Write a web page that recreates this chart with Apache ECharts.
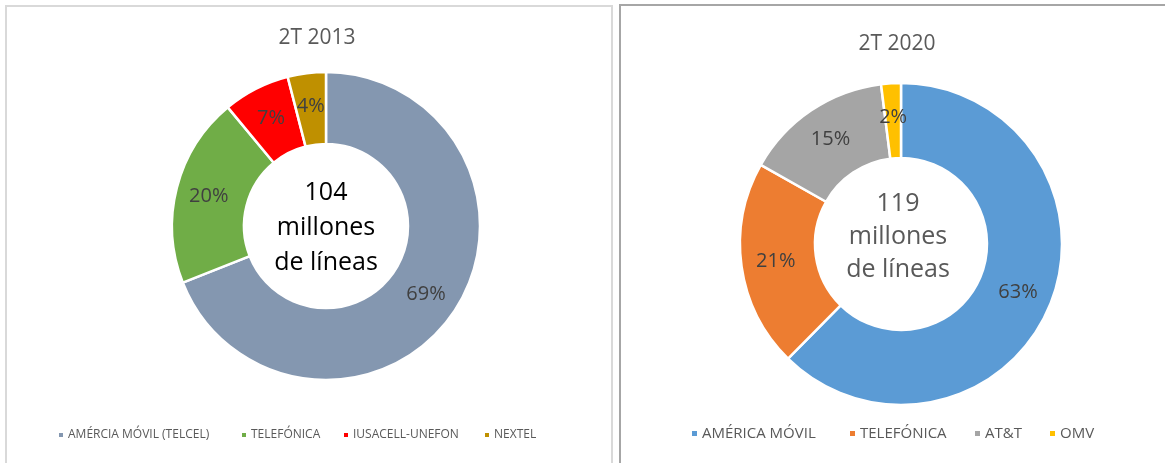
<!DOCTYPE html>
<html>
<head>
<meta charset="utf-8">
<script src="https://cdn.jsdelivr.net/npm/echarts@6/dist/echarts.min.js"></script>
<style>
html,body{margin:0;padding:0;background:#fff;}
#c{width:1165px;height:463px;}
</style>
</head>
<body>
<div id="c"></div>
<script>
// Data
const titleLeft = '2T 2013';
const categoriesLeft = ['AMÉRCIA MÓVIL (TELCEL)', 'TELEFÓNICA', 'IUSACELL-UNEFON', 'NEXTEL'];
const valuesLeft = [69, 20, 7, 4];
const centerLeft = ['104', 'millones', 'de líneas'];

const titleRight = '2T 2020';
const categoriesRight = ['AMÉRICA MÓVIL', 'TELEFÓNICA', 'AT&T', 'OMV'];
const valuesRight = [63, 21, 15, 2];
const centerRight = ['119', 'millones', 'de líneas'];

const colorsLeft = ['#8497B0', '#70AD47', '#FF0000', '#BF9000'];
const colorsRight = ['#5B9BD5', '#ED7D31', '#A5A5A5', '#FFC000'];

const FONT = 'Open Sans';
const chart = echarts.init(document.getElementById('c'), null, {renderer: 'canvas'});

function pie(cats, vals, colors, center, radius) {
  return {
    type: 'pie',
    center: center,
    radius: radius,
    startAngle: 90,
    clockwise: true,
    avoidLabelOverlap: false,
    silent: true,
    itemStyle: {borderColor: '#fff', borderWidth: 2.5},
    label: {
      show: true, position: 'inside', formatter: '{c}%',
      color: '#404040', fontSize: 20, fontFamily: FONT
    },
    labelLine: {show: false},
    data: cats.map((n, i) => ({name: n, value: vals[i], itemStyle: {color: colors[i]}}))
  };
}

// one legend component per entry, placed at the reference x position
const legendXLeft = [57, 240, 342, 483];
const legendXRight = [690, 848, 973, 1048];
function legends(cats, colors, xs, top, size, fs) {
  return cats.map((n, i) => ({
    data: [{name: n, itemStyle: {color: colors[i]}}],
    left: xs[i], top: top, padding: 0, itemWidth: size, itemHeight: size, itemGap: 0,
    icon: 'rect', selectedMode: false,
    textStyle: {color: '#595959', fontSize: fs, fontFamily: FONT, padding: [0, 0, 0, -1]}
  }));
}

chart.setOption({
  animation: false,
  title: [
    {text: titleLeft, left: 317, top: 28, padding: 0, textAlign: 'center',
     textStyle: {color: '#595959', fontSize: 21, fontWeight: 'normal', fontFamily: FONT}},
    {text: titleRight, left: 897, top: 34, padding: 0, textAlign: 'center',
     textStyle: {color: '#595959', fontSize: 21, fontWeight: 'normal', fontFamily: FONT}}
  ],
  legend: legends(categoriesLeft, colorsLeft, legendXLeft, 429, 6, 12)
    .concat(legends(categoriesRight, colorsRight, legendXRight, 426, 7, 15)),
  graphic: [
    {type: 'rect', shape: {x: 6, y: 6, width: 606, height: 480},
     style: {fill: 'none', stroke: '#d9d9d9', lineWidth: 2}, silent: true},
    {type: 'rect', shape: {x: 620, y: 5, width: 560, height: 480},
     style: {fill: 'none', stroke: '#a6a6a6', lineWidth: 2}, silent: true},
    {type: 'text', position: [326, 228],
     style: {text: centerLeft.join('\n'), x: 0, y: 0, textAlign: 'center', textVerticalAlign: 'middle',
             fill: '#000', font: '25px "Open Sans"', lineHeight: 35}},
    {type: 'text', position: [898, 237],
     style: {text: centerRight.join('\n'), x: 0, y: 0, textAlign: 'center', textVerticalAlign: 'middle',
             fill: '#595959', font: '25px "Open Sans"', lineHeight: 33}}
  ],
  series: [
    pie(categoriesLeft, valuesLeft, colorsLeft, [326, 226], [82, 154]),
    pie(categoriesRight, valuesRight, colorsRight, [901, 244], [86, 161])
  ]
});
</script>
</body>
</html>
